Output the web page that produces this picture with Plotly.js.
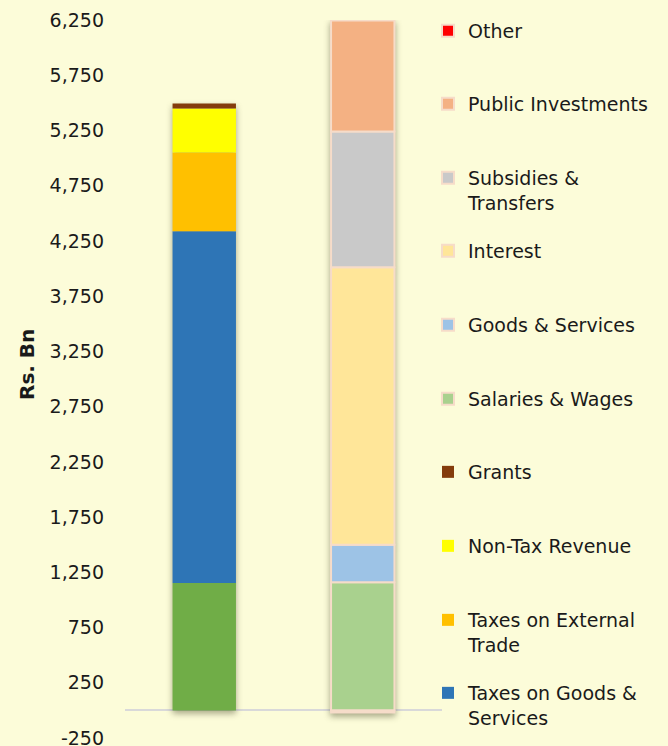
<!DOCTYPE html>
<html>
<head>
<meta charset="utf-8">
<script src="https://cdn.plot.ly/plotly-3.0.1.min.js"></script>
<style>
html,body{margin:0;padding:0;background:#FCFCD9;}
#chart{width:668px;height:746px;}
#chart .barlayer{filter: drop-shadow(0px 3px 3px rgba(60,60,30,0.45));}
</style>
</head>
<body>
<div id="chart"></div>
<script>
// Categories (bars)
const categories = ["Revenue", "Expenditure"];

// Revenue components (Rs. Bn) – left bar, bottom to top
const revenueNames  = ["Taxes on Income", "Taxes on Goods & Services", "Taxes on External Trade", "Non-Tax Revenue", "Grants"];
const revenueLegend = ["", "Taxes on Goods &<br>Services", "Taxes on External<br>Trade", "Non-Tax Revenue", "Grants"];
const revenueValues = [1153, 3185, 713, 398, 45];
const revenueColors = ["#70AD47", "#2E75B6", "#FFC000", "#FFFF00", "#843C0C"];

// Expenditure components (Rs. Bn) – right bar, bottom to top
const expNames  = ["Salaries & Wages", "Goods & Services", "Interest", "Subsidies & Transfers", "Public Investments", "Other"];
const expLegend = ["Salaries & Wages", "Goods & Services", "Interest", "Subsidies &<br>Transfers", "Public Investments", "Other"];
const expValues = [1159, 341, 2512, 1229, 1005, -20];
const expColors = ["#A9D18E", "#9DC3E6", "#FFE699", "#C9C9C9", "#F4B183", "#FF0000"];

// Y axis ticks
const tickValues = [-250, 250, 750, 1250, 1750, 2250, 2750, 3250, 3750, 4250, 4750, 5250, 5750, 6250];
const tickLabels = ["-250", "250", "750", "1,250", "1,750", "2,250", "2,750", "3,250", "3,750", "4,250", "4,750", "5,250", "5,750", "6,250"];

const FONT = "'DejaVu Sans', sans-serif";
const W = 668, H = 746;
const M = {l: 125, r: 226, t: 20, b: 8};
const PW = W - M.l - M.r, PH = H - M.t - M.b;

const traces = [];
revenueNames.forEach((n, i) => {
  traces.push({
    type: "bar", x: [categories[0]], y: [revenueValues[i]], name: revenueLegend[i] || n,
    marker: {color: revenueColors[i], line: {width: 0}},
    showlegend: !!revenueLegend[i], hoverinfo: "name+y"
  });
});
expNames.forEach((n, i) => {
  traces.push({
    type: "bar", x: [categories[1]], y: [expValues[i]], name: expLegend[i],
    marker: {color: expColors[i], line: {color: "#F6DCC9", width: 2}},
    hoverinfo: "name+y"
  });
});

// legend slots: top to bottom
const legendSeq = ["Other", "Public Investments", "Subsidies &<br>Transfers", "Interest", "Goods & Services",
                   "Salaries & Wages", "Grants", "Non-Tax Revenue", "Taxes on External<br>Trade", "Taxes on Goods &<br>Services"];
const legendCenters = [31, 104, 178, 251, 325, 399, 472, 546, 620, 693];

const layout = {
  width: W, height: H,
  paper_bgcolor: "#FCFCD9", plot_bgcolor: "#FCFCD9",
  margin: M,
  barmode: "relative", bargap: 0.6,
  font: {family: FONT, size: 19, color: "#1a1a1a"},
  xaxis: {type: "category", showticklabels: false, showgrid: false, zeroline: false, showline: false, ticks: "", range: [-0.5, 1.5]},
  yaxis: {
    range: [-250, 6250], tickvals: tickValues, ticktext: tickLabels,
    showgrid: false, showline: false, zeroline: true, zerolinecolor: "#D9D9D9", zerolinewidth: 2,
    ticks: "", ticklabelstandoff: 20, ticklabeloverflow: "allow",
    tickfont: {family: FONT, size: 19, color: "#1a1a1a"}
  },
  annotations: [{
    text: "<b>Rs. Bn</b>", textangle: -90, showarrow: false,
    xref: "paper", yref: "paper",
    x: (27 - M.l) / PW, y: (H - M.b - 365) / PH, xanchor: "center", yanchor: "middle",
    font: {family: FONT, size: 20, color: "#1a1a1a"}
  }],
  showlegend: true
};

const LEG_X = 428;
traces.forEach(t => {
  if (t.showlegend === false) return;
  const idx = legendSeq.indexOf(t.name);
  const key = idx === 0 ? "legend" : "legend" + (idx + 1);
  t.legend = key;
  layout[key] = {
    xref: "paper", yref: "paper",
    x: (LEG_X - M.l) / PW, xanchor: "left",
    y: (H - M.b - (legendCenters[idx] - 19)) / PH, yanchor: "top",
    bgcolor: "rgba(0,0,0,0)", borderwidth: 0,
    valign: "top", itemclick: false, itemdoubleclick: false,
    font: {family: FONT, size: 19, color: "#1a1a1a"}
  };
});

Plotly.newPlot("chart", traces, layout, {displayModeBar: false, staticPlot: true});
</script>
</body>
</html>
